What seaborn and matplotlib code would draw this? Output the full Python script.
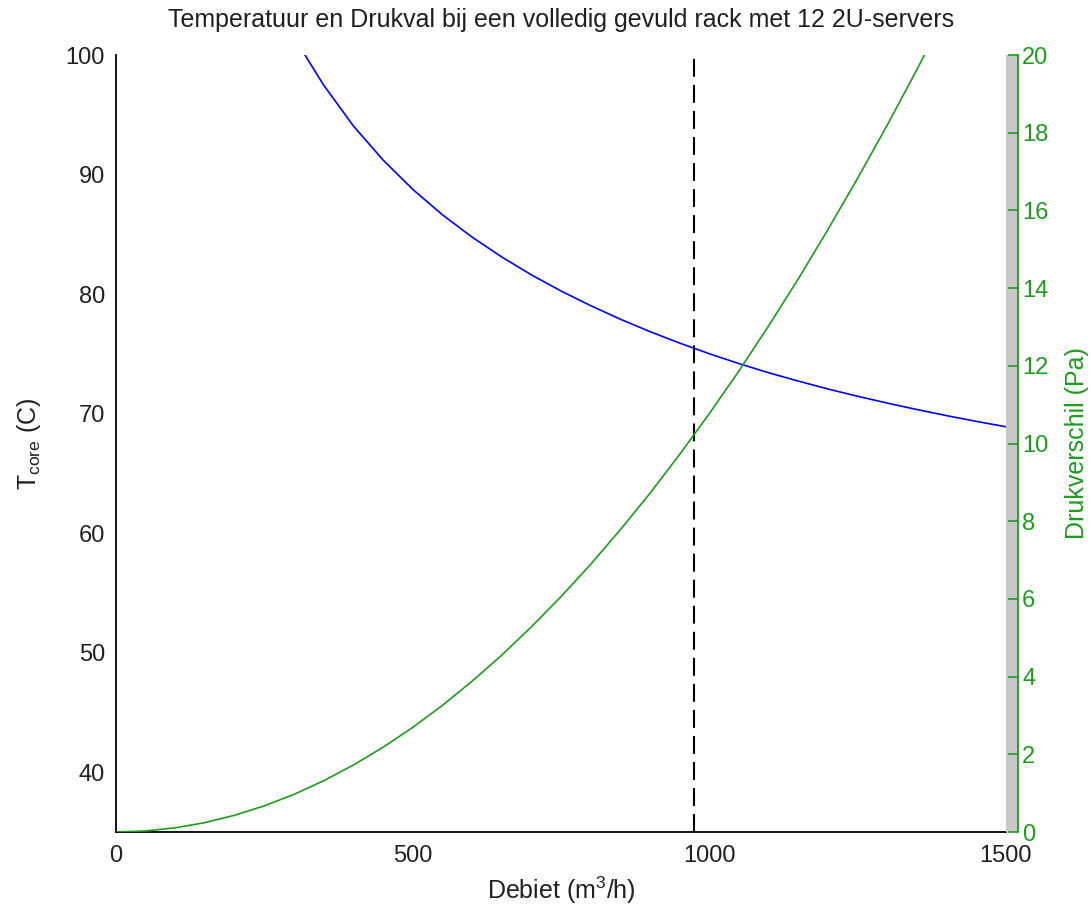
import matplotlib
matplotlib.use("Agg")
import matplotlib.pyplot as plt
import seaborn as sns
import pandas as pd

# ---- data ----
flow_t = [300, 318.5, 350, 400, 450, 500, 550, 600, 650, 700, 750, 800, 850, 900,
          950, 1000, 1050, 1100, 1150, 1200, 1250, 1300, 1350, 1400, 1450, 1500]
t_core = [101.65, 100.0, 97.48, 94.07, 91.22, 88.77, 86.64, 84.77, 83.11, 81.61,
          80.26, 79.03, 77.90, 76.86, 75.90, 75.01, 74.18, 73.42, 72.72, 72.06,
          71.45, 70.88, 70.34, 69.83, 69.35, 68.90]

flow_p = [0, 50, 100, 150, 200, 250, 300, 350, 400, 450, 500, 550, 600, 650, 700,
          750, 800, 850, 900, 950, 1000, 1050, 1100, 1150, 1200, 1250, 1300, 1350, 1400]
druk = [0.0, 0.027, 0.108, 0.242, 0.431, 0.673, 0.969, 1.319, 1.723, 2.181, 2.69,
        3.258, 3.88, 4.55, 5.28, 6.058, 6.89, 7.781, 8.72, 9.72, 10.77, 11.87,
        13.03, 14.24, 15.51, 16.83, 18.20, 19.63, 21.11]

design_flow = 975

x_ticks = [0, 500, 1000, 1500]
left_ticks = [40, 50, 60, 70, 80, 90, 100]
right_ticks = [0, 2, 4, 6, 8, 10, 12, 14, 16, 18, 20]

title = "Temperatuur en Drukval bij een volledig gevuld rack met 12 2U-servers"

# ---- style ----
sns.set_style("white")
plt.rcParams["font.family"] = ["Liberation Sans", "DejaVu Sans"]
plt.rcParams["mathtext.fontset"] = "custom"
plt.rcParams["mathtext.rm"] = "Liberation Sans"
plt.rcParams["mathtext.it"] = "Liberation Sans"
FS_TICK = 17
FS_LAB = 18
GREEN = "#1f9a1f"
TXT = "#202020"

W, H = 1091, 913
fig = plt.figure(figsize=(W / 100, H / 100), dpi=100)
fig.patch.set_facecolor("white")

left, right1, right2, top, bottom = 116, 1006, 1018, 55, 832
pos1 = [left / W, 1 - bottom / H, (right1 - left) / W, (bottom - top) / H]
pos2 = [left / W, 1 - bottom / H, (right2 - left) / W, (bottom - top) / H]

ax = fig.add_axes(pos1)
ax2 = fig.add_axes(pos2)
ax2.patch.set_alpha(0)

df_t = pd.DataFrame({"Q": flow_t, "T": t_core})
df_p = pd.DataFrame({"Q": flow_p, "P": druk})

sns.lineplot(data=df_t, x="Q", y="T", ax=ax, color="#0000ff", lw=1.2, sort=False)
ax.axvline(design_flow, color="black", lw=1.5, ls=(0, (8.6, 3.9)))

xmax2 = 1500 * (right2 - left) / (right1 - left)
ax2.axvspan(1500, xmax2, color="#c8c8c8", zorder=0, lw=0)
sns.lineplot(data=df_p, x="Q", y="P", ax=ax2, color=GREEN, lw=1.2, sort=False)

ax.set_xlim(0, 1500)
ax.set_ylim(35, 100)
ax2.set_xlim(0, xmax2)
ax2.set_ylim(0, 20)

ax.set_xticks(x_ticks)
ax.set_yticks(left_ticks)
ax.tick_params(axis="both", direction="in", length=7, width=1.2, labelsize=FS_TICK,
               colors="black", labelcolor=TXT, pad=8)
ax.tick_params(axis="x", pad=9)
for s in ["top", "right"]:
    ax.spines[s].set_visible(False)
for s in ["left", "bottom"]:
    ax.spines[s].set_color("black")
    ax.spines[s].set_linewidth(1.3)

ax.set_xlabel("Debiet (m$^{\\mathrm{3}}$/h)", fontsize=FS_LAB, labelpad=6, color=TXT)
ax.set_ylabel("T$_{\\mathrm{core}}$ (C)", fontsize=FS_LAB, labelpad=16, color=TXT)
ax.set_title(title, fontsize=FS_LAB, pad=20, color=TXT)

ax2.yaxis.tick_right()
ax2.yaxis.set_label_position("right")
ax2.set_yticks(right_ticks)
ax2.set_xticks([])
ax2.tick_params(axis="y", direction="in", length=7, width=1.2, labelsize=FS_TICK,
                colors=GREEN, pad=3)
for s in ["top", "left", "bottom"]:
    ax2.spines[s].set_visible(False)
ax2.spines["right"].set_color(GREEN)
ax2.spines["right"].set_linewidth(1.3)
ax2.set_xlabel("")
ax2.set_ylabel("Drukverschil (Pa)", fontsize=FS_LAB, color=GREEN, labelpad=12)

fig.savefig("out.png", dpi=100, facecolor="white")
